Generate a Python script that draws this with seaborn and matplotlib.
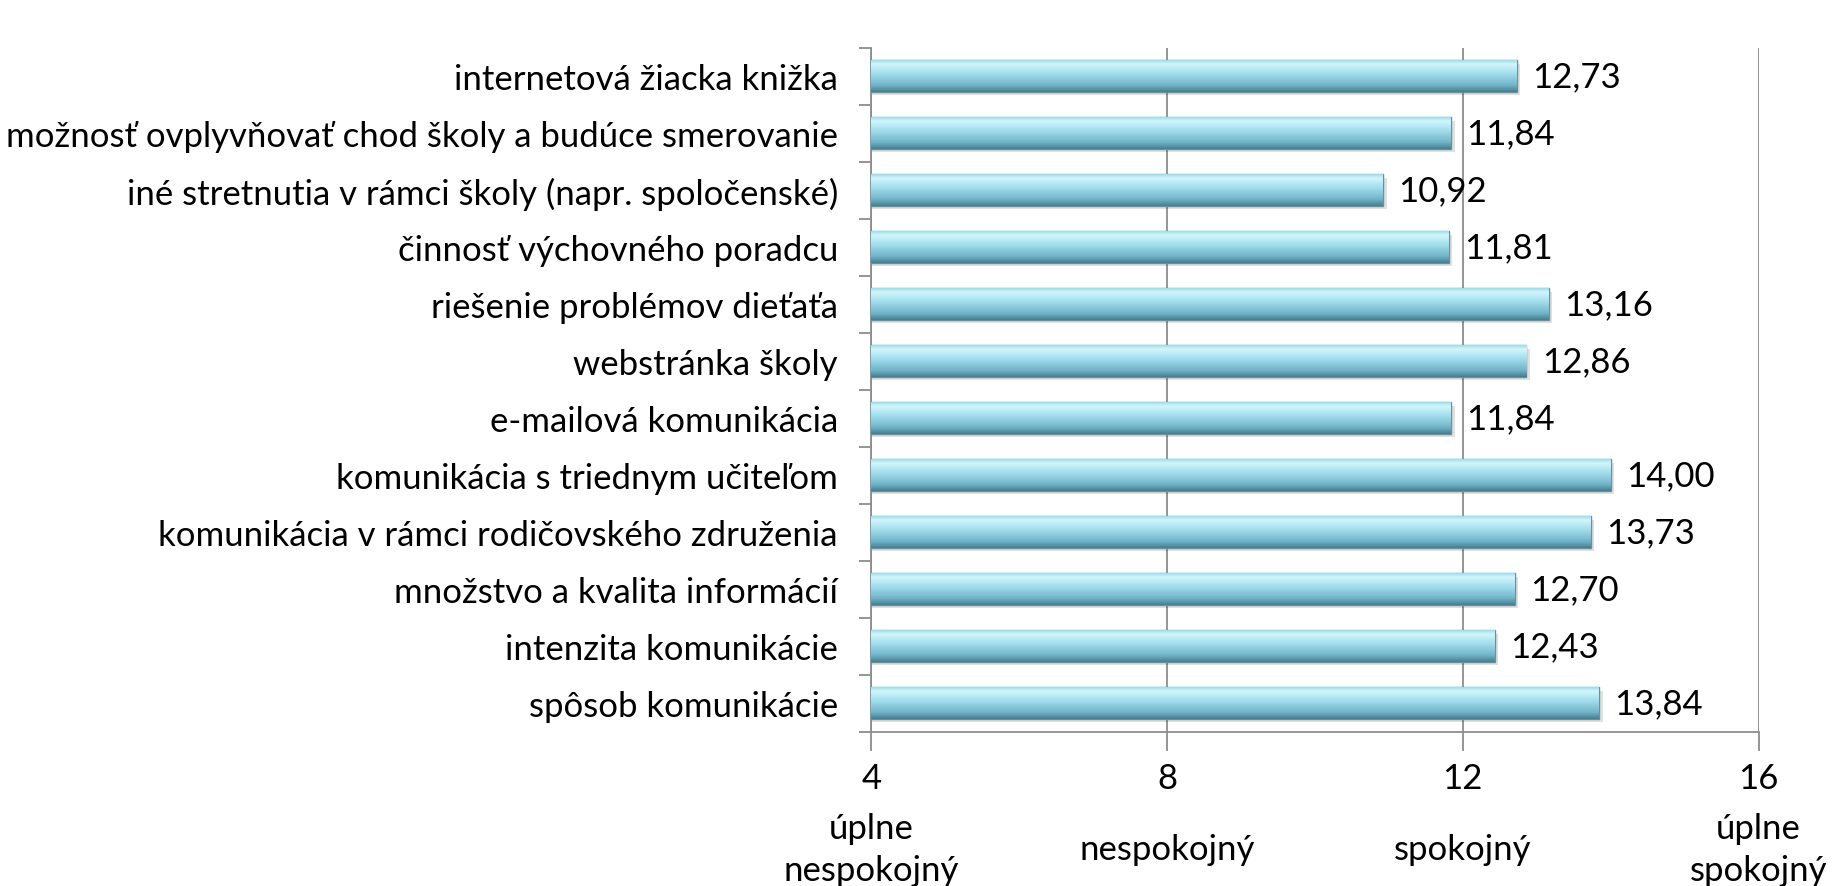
import numpy as np
import pandas as pd
import seaborn as sns
import matplotlib.pyplot as plt
from matplotlib.colors import LinearSegmentedColormap
from matplotlib.transforms import blended_transform_factory

# data (top to bottom as in the chart)
categories = [
    "internetová žiacka knižka",
    "možnosť ovplyvňovať chod školy a budúce smerovanie",
    "iné stretnutia v rámci školy (napr. spoločenské)",
    "činnosť výchovného poradcu",
    "riešenie problémov dieťaťa",
    "webstránka školy",
    "e-mailová komunikácia",
    "komunikácia s triednym učiteľom",
    "komunikácia v rámci rodičovského združenia",
    "množstvo a kvalita informácií",
    "intenzita komunikácie",
    "spôsob komunikácie",
]
values = [12.73, 11.84, 10.92, 11.81, 13.16, 12.86, 11.84, 14.00, 13.73, 12.70, 12.43, 13.84]
x_ticks = [4, 8, 12, 16]
x_words = ["úplne\nnespokojný", "nespokojný", "spokojný", "úplne\nspokojný"]

df = pd.DataFrame({"oblast": categories, "skore": values})

sns.set_style("white")
plt.rcParams["font.family"] = ["Lato", "DejaVu Sans"]
plt.rcParams["text.color"] = "black"
plt.rcParams["xtick.labelcolor"] = "black"
plt.rcParams["ytick.labelcolor"] = "black"
fs = 25
grid_col = "#8c8c8c"
xmin = 4

fig = plt.figure(figsize=(18.42, 8.87), dpi=100)
ax = fig.add_axes([0.473, 0.174, 0.4817, 0.7712])

sns.barplot(data=df, x="skore", y="oblast", orient="h", color="#8fd3e4",
            width=0.55, ax=ax, zorder=3)

# glossy gradient on the bars
cmap = LinearSegmentedColormap.from_list(
    "glass", [(0, "#9fdcea"), (0.12, "#d2f6fc"), (0.45, "#9edbea"),
              (0.8, "#70b3c7"), (1, "#457f91")])
grad = np.linspace(0, 1, 64).reshape(-1, 1)
for p in ax.patches:
    x0, y0, w, h = p.get_x(), p.get_y(), p.get_width(), p.get_height()
    x1 = x0 + w
    p.set_edgecolor("#5a96a8")
    p.set_linewidth(1)
    img = ax.imshow(grad, cmap=cmap, aspect="auto", zorder=3.5,
                    extent=[xmin, x1, y0 + h, y0], interpolation="bicubic")
    img.set_clip_path(p)
    # soft shadow
    ax.add_patch(plt.Rectangle((xmin, y0 + h * 0.1), x1 - xmin + 0.05, h,
                               color="#000000", alpha=0.12, zorder=2, lw=0))

for i, v in enumerate(values):
    ax.annotate(f"{v:.2f}".replace(".", ","), (v, i), xytext=(11, 0),
                textcoords="offset points", va="center", ha="left", fontsize=fs,
                zorder=5)

ax.set_xlim(xmin, 16)
ax.set_ylim(11.5, -0.5)
ax.set_xticks(x_ticks)
ax.set_xticklabels([str(t) for t in x_ticks], fontsize=fs)
ax.set_yticks(range(len(categories)))
ax.set_yticklabels(categories, fontsize=fs)
ax.set_yticks(np.arange(-0.5, len(categories), 1), minor=True)
ax.tick_params(axis="y", which="major", length=0, pad=24)
ax.tick_params(axis="y", which="minor", length=9, width=1.3, color=grid_col, direction="out", left=True)
ax.tick_params(axis="x", length=14, width=1.3, color=grid_col, direction="out", pad=8, bottom=True)
ax.set_xlabel("")
ax.set_ylabel("")

ax.grid(axis="x", color=grid_col, linewidth=1.3, zorder=0)
ax.set_axisbelow(True)
for s in ["top", "right"]:
    ax.spines[s].set_visible(False)
for s in ["left", "bottom"]:
    ax.spines[s].set_color(grid_col)
    ax.spines[s].set_linewidth(1.3)

tr = blended_transform_factory(ax.transData, fig.transFigure)
for t, w in zip(x_ticks, x_words):
    ax.text(t, 0.042, w, transform=tr, ha="center", va="center", fontsize=fs,
            linespacing=1.4, clip_on=False)

fig.savefig("out.png", dpi=100)
